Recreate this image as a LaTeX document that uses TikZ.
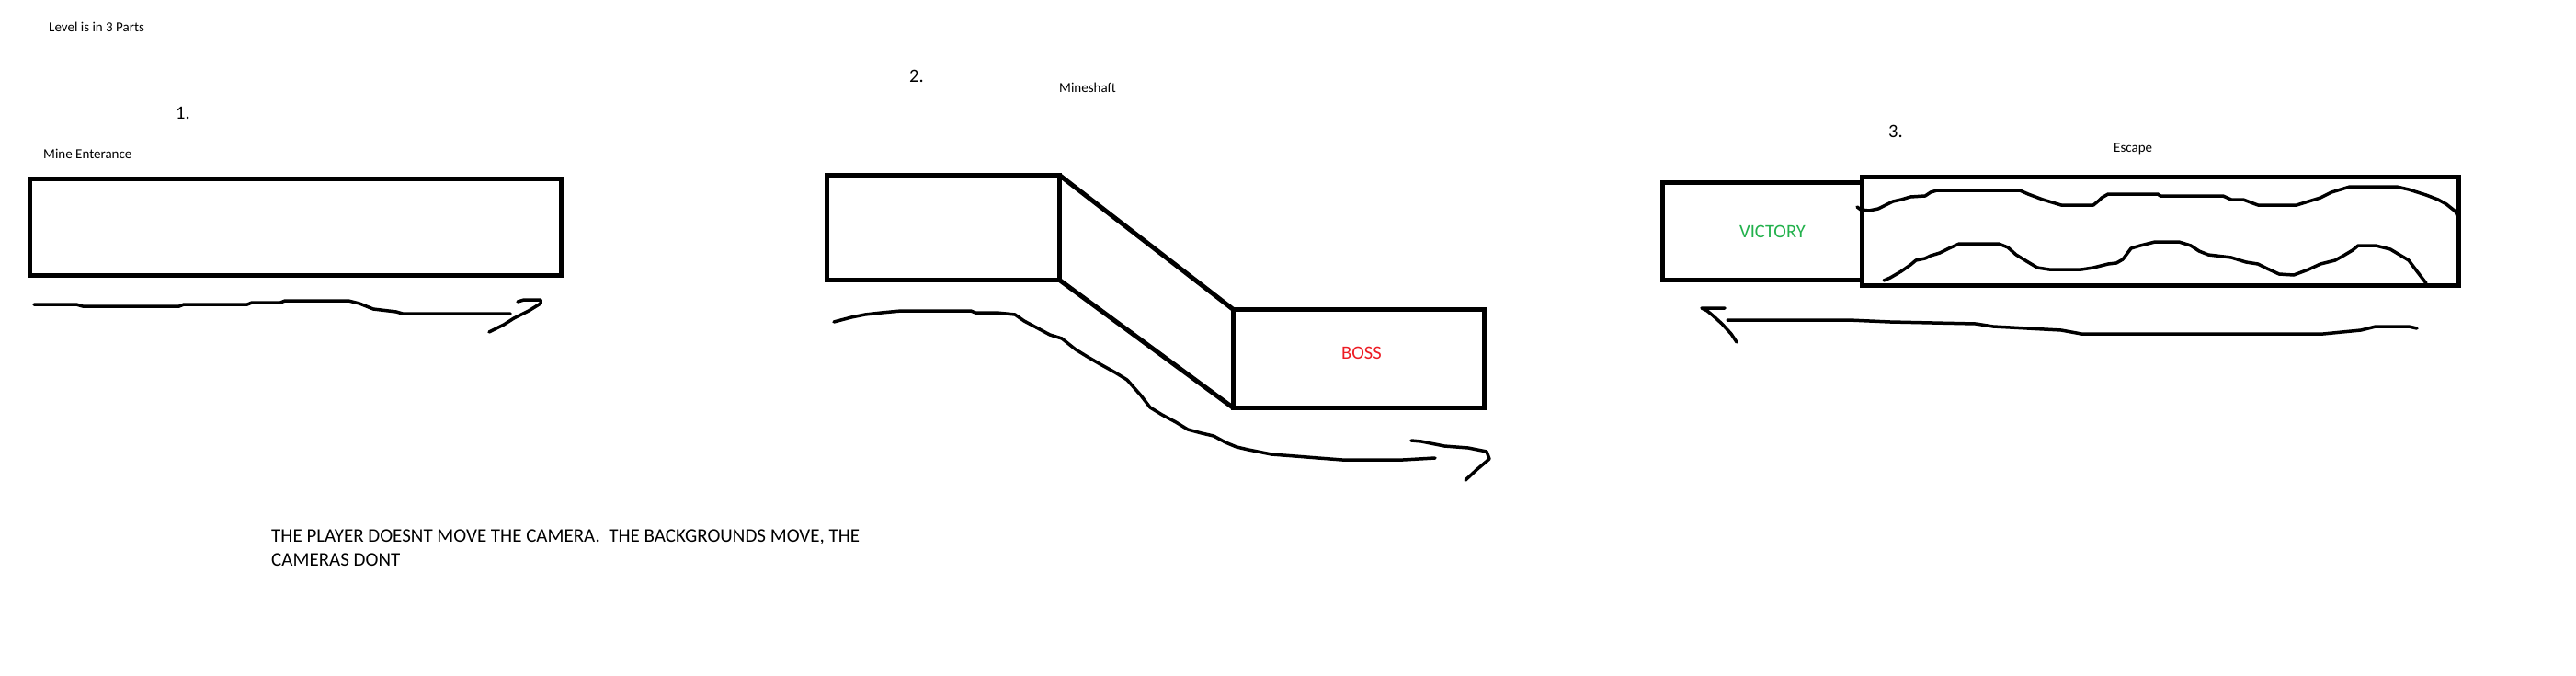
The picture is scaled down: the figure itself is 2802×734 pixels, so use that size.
\documentclass[tikz,border=0pt]{standalone}
\usepackage{fontspec}
\setmainfont{Carlito}
\definecolor{paintred}{RGB}{237,28,36}
\definecolor{paintgreen}{RGB}{34,177,76}
\begin{document}
\begin{tikzpicture}[x=1pt,y=-1pt,
  box/.style={draw, rectangle, line width=5pt, inner sep=0pt, outer sep=0pt},
  shaft/.style={line width=5pt, line cap=round},
  small/.style={font=\fontsize{15}{18}\selectfont, inner sep=0pt, anchor=base west},
  big/.style={font=\fontsize{20.5}{26}\selectfont, inner sep=0pt, anchor=base west},
  stroke/.style={line width=3.5pt, line join=round, line cap=round}]
\useasboundingbox[fill=white] (0,0) rectangle (2802,734);

% texts
\node[small] (title) at (53,34) {Level is in 3 Parts};
\node[big] (n1) at (191,129) {1.};
\node[small] (l1) at (47,172) {Mine Enterance};
\node[big] (n2) at (989,89) {2.};
\node[small] (l2) at (1152,100) {Mineshaft};
\node[big] (n3) at (2054,149) {3.};
\node[small] (l3) at (2299,165) {Escape};
\node[big, font=\fontsize{21}{26}\selectfont, align=left] (note) at (295,615) {THE PLAYER DOESNT MOVE THE CAMERA.\ \ THE BACKGROUNDS MOVE, THE\\CAMERAS DONT};

% boxes
\node[box, minimum width=578pt, minimum height=105pt] (r1) at (321.5,247) {};
\node[box, minimum width=253pt, minimum height=114pt] (r2a) at (1026,247.5) {};
\node[box, minimum width=273pt, minimum height=107pt, text depth=12pt,
      font=\fontsize{20.5}{26}\selectfont, text=paintred] (boss) at (1478,390) {\hspace*{6pt}BOSS};
\node[box, minimum width=217pt, minimum height=106pt,
      font=\fontsize{20.5}{26}\selectfont, text=paintgreen] (victory) at (1917,251.5) {\hspace*{22pt}VICTORY};
\node[box, minimum width=649pt, minimum height=118pt] (escape) at (2350,251.5) {};

% mineshaft walls
\draw[shaft] (r2a.north east) -- (boss.north west);
\draw[shaft] (r2a.south east) -- (boss.south west);

% part 1 movement line
\draw[stroke] (37,331) -- (83,331) -- (90,333) -- (195,333) -- (200,331) -- (269,331) -- (274,329) -- (305,329) -- (310,327) -- (379,327) -- (391,330) -- (406,336) -- (431,339) -- (438,341) -- (555,341);
\draw[stroke] (563,328) -- (570,326) -- (588,326) -- (588,330) -- (575,338) -- (559,346) -- (548,353) -- (532,361);

% part 2 movement line
\draw[stroke] (907,350) -- (926,345) -- (941,342) -- (959,340) -- (980,338) -- (1002,338) -- (1056,338) -- (1061,340) -- (1084,340) -- (1104,342) -- (1114,349) -- (1129,357) -- (1142,364) -- (1155,368) -- (1170,380) -- (1183,388) -- (1195,395) -- (1213,405) -- (1226,413) -- (1241,430) -- (1251,443) -- (1264,451) -- (1279,459) -- (1292,467) -- (1307,471) -- (1320,474) -- (1333,481) -- (1345,486) -- (1358,489) -- (1383,494) -- (1409,496) -- (1434,498) -- (1460,500) -- (1526,500) -- (1561,498);
\draw[stroke] (1535,479) -- (1546,480) -- (1571,485) -- (1597,487) -- (1617,491) -- (1620,499) -- (1607,510) -- (1594,522);

% part 3 cave walls
\draw[stroke] (2020,225) -- (2024,228) -- (2033,229) -- (2043,227) -- (2049,224) -- (2059,219) -- (2068,217) -- (2078,214) -- (2094,213) -- (2100,209) -- (2107,207) -- (2197,207) -- (2206,211) -- (2222,217) -- (2242,223) -- (2277,223) -- (2283,218) -- (2286,215) -- (2293,211) -- (2347,211) -- (2350,213) -- (2418,213) -- (2427,217) -- (2440,217) -- (2456,223) -- (2498,223) -- (2511,219) -- (2524,215) -- (2536,209) -- (2556,203) -- (2607,203) -- (2620,206) -- (2639,212) -- (2652,217) -- (2661,222) -- (2671,230) -- (2674,238);
\draw[stroke] (2049,305) -- (2056,302) -- (2068,295) -- (2078,288) -- (2084,283) -- (2094,281) -- (2100,278) -- (2110,275) -- (2120,270) -- (2131,265) -- (2174,265) -- (2184,269) -- (2193,277) -- (2206,285) -- (2216,291) -- (2229,293) -- (2264,293) -- (2277,291) -- (2293,287) -- (2302,286) -- (2309,282) -- (2318,270) -- (2328,267) -- (2344,263) -- (2370,263) -- (2383,267) -- (2392,273) -- (2402,277) -- (2427,280) -- (2443,285) -- (2456,287) -- (2466,292) -- (2479,298) -- (2495,299) -- (2511,293) -- (2524,287) -- (2540,283) -- (2549,278) -- (2559,272) -- (2565,267) -- (2584,267) -- (2600,271) -- (2620,283) -- (2629,295) -- (2639,308);

% part 3 movement line
\draw[stroke] (2629,357) -- (2620,355) -- (2584,355) -- (2568,359) -- (2527,363) -- (2264,363) -- (2242,359) -- (2168,355) -- (2149,352) -- (2056,350) -- (2011,348) -- (1879,348);
\draw[stroke] (1876,335) -- (1851,335) -- (1857,338) -- (1863,343) -- (1873,352) -- (1883,363) -- (1889,372);
\end{tikzpicture}
\end{document}
